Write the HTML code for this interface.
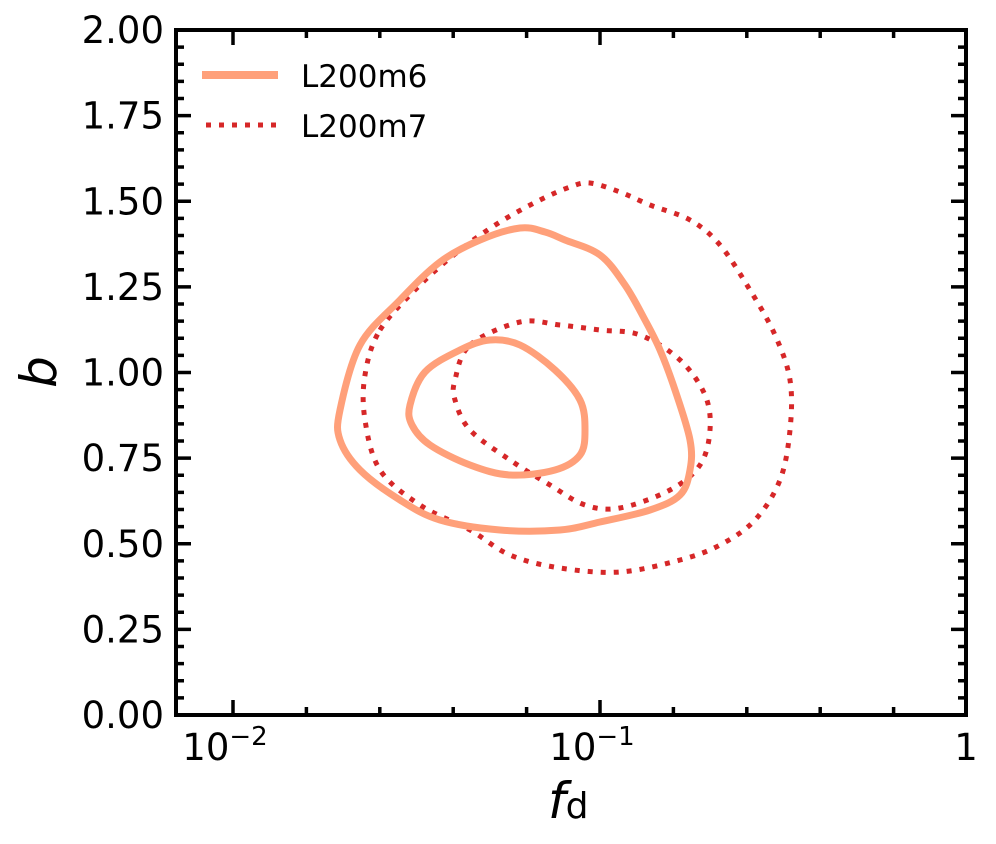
<!DOCTYPE html><html><head><style>body{margin:0;background:#fff}</style></head><body>
<svg id="s" width="996" height="839" xmlns="http://www.w3.org/2000/svg" font-family="DejaVu Sans, Liberation Sans, sans-serif">
<g id="ticks" stroke="#000" stroke-width="3.5"></g>
<g id="curves" fill="none" stroke-linecap="butt" stroke-linejoin="round"></g>
<rect x="176" y="30" width="790" height="685" fill="none" stroke="#000" stroke-width="4"/>
<g font-size="37" fill="#000" text-anchor="end" id="ylab"></g>
<g font-size="37" fill="#000" text-anchor="middle">
<text x="225" y="760">10<tspan font-size="26" dy="-15">−2</tspan></text>
<text x="592" y="760">10<tspan font-size="26" dy="-15">−1</tspan></text>
<text x="966" y="760">1</text>
</g>
<text x="40" y="372" font-size="50" font-style="italic" text-anchor="middle" transform="rotate(-90 40 372)" dy="16">b</text>
<text x="548" y="818" font-size="50" font-style="italic">f<tspan font-style="normal" font-size="36">d</tspan></text>
<line x1="202" y1="75" x2="278" y2="75" stroke="#FFA07A" stroke-width="8"/>
<line x1="206" y1="125" x2="278" y2="125" stroke="#d62728" stroke-width="5" stroke-dasharray="5,8"/>
<text x="301" y="87" font-size="31">L200m6</text>
<text x="301" y="137" font-size="31">L200m7</text>
</svg>
<script>
const t=document.getElementById('ticks'),yl=document.getElementById('ylab');
let h='';
function L(a,b,c,d){h+=`<line x1="${a}" y1="${b}" x2="${c}" y2="${d}"/>`;}
for(let i=0;i<=40;i++){const y=715-i*0.05*342.5;const M=i%5==0;const l=M?15:8;L(176,y,176+l,y);L(966,y,966-l,y);
if(M)yl.innerHTML+=`<text x="164" y="${y+13}">${(i*0.05).toFixed(2)}</text>`;}
for(let i=0;i<=10;i++){const x=233+i*73.4;if(x<176||x>966)continue;const M=i%5==0;const l=M?15:8;L(x,715,x,715-l);L(x,30,x,30+l);}
t.innerHTML=h;
function path(p){p=p.concat([p[0],p[1],p[2]]);let d=`M${p[1][0]},${p[1][1]}`;
for(let i=1;i<p.length-2;i++){const a=p[i-1],b=p[i],c=p[i+1],e=p[i+2];
d+=`C${b[0]+(c[0]-a[0])/6},${b[1]+(c[1]-a[1])/6} ${c[0]-(e[0]-b[0])/6},${c[1]-(e[1]-b[1])/6} ${c[0]},${c[1]}`;}return d;}
const C=[
[[340,410],[360,345],[400,300],[440,262],[480,240],[520,228],[545,232],[565,240],[600,255],[625,285],[645,320],[660,350],[675,390],[690,440],[690,470],[680,495],[650,510],[600,522],[560,530],[500,530],[440,520],[400,500],[360,470],[340,440]],
[[410,405],[425,372],[460,350],[490,340],[520,345],[555,370],[580,400],[585,430],[580,455],[555,470],[510,475],[470,465],[430,445],[412,425]]];
const D=[
[[365,375],[380,330],[420,285],[460,250],[500,222],[540,200],[570,187],[590,183],[620,192],[650,205],[690,220],[720,245],[750,290],[775,335],[790,380],[790,430],[780,480],[755,520],[720,545],[680,560],[620,572],[560,568],[510,555],[470,530],[420,505],[380,470],[365,420]],
[[455,380],[470,345],[520,322],[560,325],[600,330],[640,335],[680,360],[705,395],[710,430],[700,465],[670,490],[620,508],[585,505],[550,485],[510,460],[470,430],[455,400]]];
let g='';
D.forEach(p=>g+=`<path d="${path(p)}" stroke="#d62728" stroke-width="5" stroke-dasharray="5,8"/>`);
C.forEach(p=>g+=`<path d="${path(p)}" stroke="#FFA07A" stroke-width="7"/>`);
document.getElementById('curves').innerHTML=g;
</script>
</body></html>
